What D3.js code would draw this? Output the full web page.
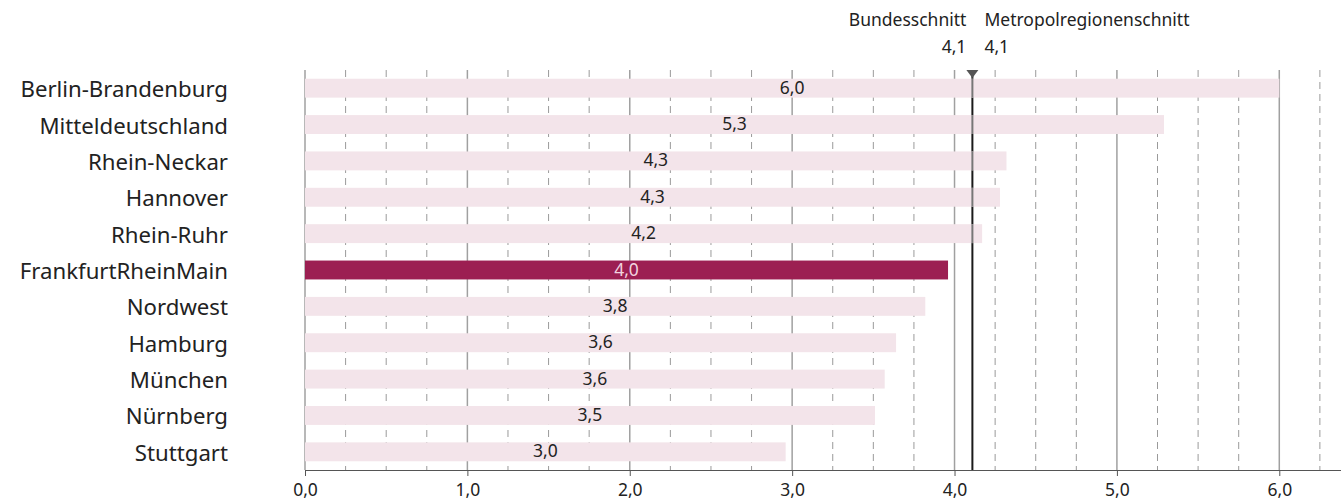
<!DOCTYPE html>
<html><head><meta charset="utf-8">
<script src="https://cdn.jsdelivr.net/npm/d3@7"></script>
<style>body{margin:0;background:#fff}svg{display:block}text{font-family:"Noto Sans",sans-serif}</style>
</head><body><svg id="c" width="1341" height="501"></svg>
<script>
const categories = ["Berlin-Brandenburg","Mitteldeutschland","Rhein-Neckar","Hannover","Rhein-Ruhr","FrankfurtRheinMain","Nordwest","Hamburg","München","Nürnberg","Stuttgart"];
const values = [6.0, 5.29, 4.32, 4.28, 4.17, 3.96, 3.82, 3.64, 3.57, 3.51, 2.96];
const highlight = "FrankfurtRheinMain";
const refValue = 4.11;
const refLabels = ["Bundesschnitt", "Metropolregionenschnitt"];
const tickValues = [0,1,2,3,4,5,6];

const svg = d3.select("#c");
const x = d3.scaleLinear().domain([0, 6.38]).range([305, 1341]);
const y = d3.scaleBand().domain(categories).range([70, 470]).paddingInner(0.48).paddingOuter(0.24);
const fmt = v => d3.format(".1f")(v).replace(".", ",");
const plotTop = 70, plotBottom = 470;
const font = "\"Noto Sans\",sans-serif";
const small = 17.5;

// minor dashed grid
const minor = d3.range(0.25, 6.3, 0.25).filter(v => Math.abs(v - Math.round(v)) > 1e-6);
svg.append("g").selectAll("line").data(minor).join("line")
  .attr("x1", d => x(d)).attr("x2", d => x(d)).attr("y1", plotTop).attr("y2", plotBottom)
  .attr("stroke", "#9a9a9a").attr("stroke-width", 1).attr("stroke-dasharray", "7,5");
// major grid
svg.append("g").selectAll("line").data(tickValues).join("line")
  .attr("x1", d => x(d)).attr("x2", d => x(d)).attr("y1", plotTop).attr("y2", plotBottom)
  .attr("stroke", "#a0a0a0").attr("stroke-width", 1.5);

// reference line (drawn under the bars, which are slightly translucent)
svg.append("line").attr("x1", x(refValue)).attr("x2", x(refValue))
  .attr("y1", plotTop).attr("y2", plotBottom).attr("stroke", "#1a1a1a").attr("stroke-width", 2);

// bars
svg.append("g").selectAll("rect").data(categories).join("rect")
  .attr("x", x(0)).attr("y", d => y(d))
  .attr("width", (d, i) => x(values[i]) - x(0)).attr("height", y.bandwidth())
  .attr("fill", d => d === highlight ? "#9c1f52" : "#f3e4ea");

// value labels
svg.append("g").selectAll("text").data(categories).join("text")
  .attr("x", (d, i) => (x(0) + x(values[i])) / 2)
  .attr("y", d => y(d) + y.bandwidth() / 2 + 5.5)
  .attr("text-anchor", "middle").attr("font-size", small)
  .attr("fill", d => d === highlight ? "#f1d3df" : "#222")
  .text((d, i) => fmt(values[i]));

// category labels
svg.append("g").selectAll("text").data(categories).join("text")
  .attr("x", 228).attr("y", d => y(d) + y.bandwidth() / 2 + 9)
  .attr("text-anchor", "end").attr("font-size", 22.2).attr("fill", "#222")
  .text(d => d);

// reference line over bars, lighter where it crosses a bar
svg.append("g").selectAll("line").data(categories.filter((d, i) => values[i] > refValue)).join("line")
  .attr("x1", x(refValue)).attr("x2", x(refValue))
  .attr("y1", d => y(d)).attr("y2", d => y(d) + y.bandwidth())
  .attr("stroke", "#777").attr("stroke-width", 2);
svg.append("path")
  .attr("d", `M${x(refValue)-6},${plotTop}L${x(refValue)+6},${plotTop}L${x(refValue)},${plotTop+8}Z`)
  .attr("fill", "#555");

// header labels
const hx = x(refValue);
svg.append("text").attr("x", hx - 6).attr("y", 26).attr("text-anchor", "end").attr("font-size", small).attr("fill", "#222").text(refLabels[0]);
svg.append("text").attr("x", hx + 12).attr("y", 26).attr("text-anchor", "start").attr("font-size", small).attr("fill", "#222").text(refLabels[1]);
svg.append("text").attr("x", hx - 6).attr("y", 53).attr("text-anchor", "end").attr("font-size", small).attr("fill", "#222").text(fmt(refValue));
svg.append("text").attr("x", hx + 12).attr("y", 53).attr("text-anchor", "start").attr("font-size", small).attr("fill", "#222").text(fmt(refValue));

// x axis
const ax = svg.append("g").attr("transform", `translate(0,${plotBottom})`)
  .call(d3.axisBottom(x).tickValues(tickValues).tickFormat(fmt).tickSize(6).tickPadding(8));
ax.select(".domain").attr("stroke", "#555").attr("stroke-width", 1.2).attr("d", `M${x(0)},0.5H1341`);
ax.selectAll(".tick line").attr("stroke", "#555");
ax.selectAll(".tick text").attr("font-size", small).attr("fill", "#222").attr("font-family", font);
</script></body></html>
